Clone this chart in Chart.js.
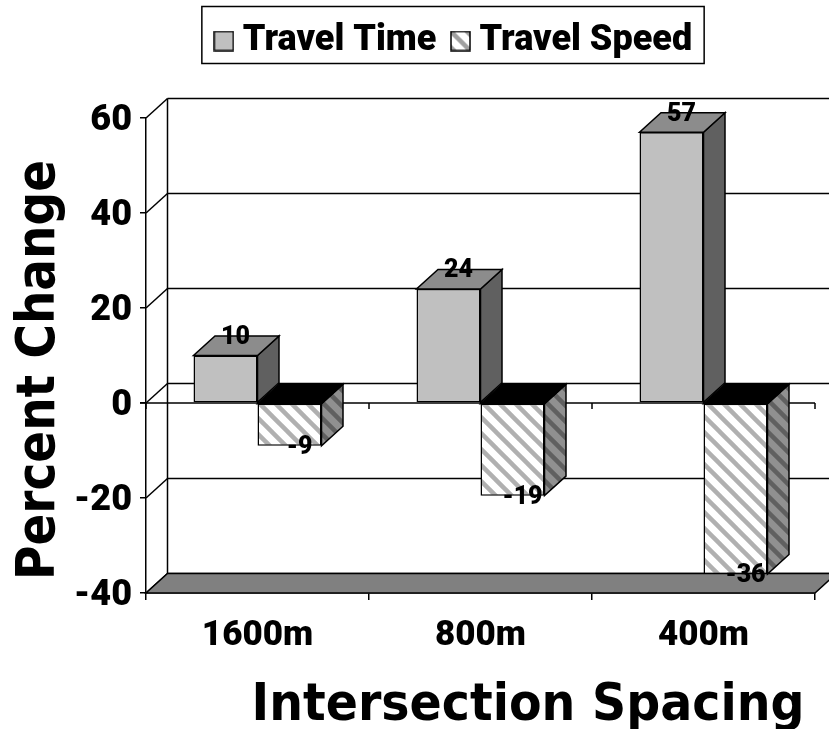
<!DOCTYPE html>
<html>
<head>
<meta charset="utf-8">
<style>
  html, body { margin: 0; padding: 0; background: #fff; }
  canvas { display: block; }
</style>
<script src="https://cdn.jsdelivr.net/npm/chart.js@4"></script>
</head>
<body>
<canvas id="chart" width="829" height="729"></canvas>
<script>
const categories = ['1600m', '800m', '400m'];
const travelTime = [10, 24, 57];
const travelSpeed = [-9, -19.5, -36];
const valueLabels = [['10', '24', '57'], ['-9', '-19', '-36']];

const yTicks = { min: -40, max: 60, step: 20 };
const depthX = 21.5;
const depthY = 19.5;
const smallFont = 'Roboto, "DejaVu Sans Condensed", sans-serif';
const bigFont = '"DejaVu Sans", sans-serif';

function makeTile(back, stripe, size, width) {
    const tile = document.createElement('canvas');
    tile.width = size;
    tile.height = size;
    const c = tile.getContext('2d');
    c.fillStyle = back;
    c.fillRect(0, 0, size, size);
    c.strokeStyle = stripe;
    c.lineWidth = width;
    for (let i = -size; i <= size; i += size) {
        c.beginPath();
        c.moveTo(i - 2, -2);
        c.lineTo(i + size + 2, size + 2);
        c.stroke();
    }
    return tile;
}

// tile with diagonal stripes for the hatched bars
function makeHatch(back, stripe) {
    return document.getElementById('chart').getContext('2d').createPattern(makeTile(back, stripe, 16, 4.5), 'repeat');
}

const hatchFront = makeHatch('#ffffff', '#b0b0b0');
const hatchSide = makeHatch('#909090', '#606060');

// legend swatches, drawn as point styles so they sit close to the text
function makeSwatch(fill) {
    const s = document.createElement('canvas');
    s.width = 21;
    s.height = 21;
    const c = s.getContext('2d');
    c.fillStyle = fill;
    c.fillRect(1, 1, 19, 19);
    c.strokeStyle = '#000';
    c.lineWidth = 1.5;
    c.strokeRect(1, 1, 19, 19);
    return s;
}

const swatches = [
    makeSwatch('#c0c0c0'),
    makeSwatch(document.createElement('canvas').getContext('2d').createPattern(makeTile('#ffffff', '#a0a0a0', 16, 4.5), 'repeat'))
];

function face(ctx, pts, fill) {
    ctx.beginPath();
    ctx.moveTo(pts[0][0], pts[0][1]);
    for (let i = 1; i < pts.length; i++) ctx.lineTo(pts[i][0], pts[i][1]);
    ctx.closePath();
    ctx.fillStyle = fill;
    ctx.fill();
    ctx.lineWidth = 1.5;
    ctx.strokeStyle = '#000';
    ctx.stroke();
}

function line(ctx, x1, y1, x2, y2, w) {
    ctx.beginPath();
    ctx.moveTo(x1, y1);
    ctx.lineTo(x2, y2);
    ctx.lineWidth = w;
    ctx.strokeStyle = '#000';
    ctx.stroke();
}

const box3d = {
    id: 'box3d',
    beforeLayout(chart) {
        // room between legend and plot, v4 legend has no afterFit so wrap fit
        const legend = chart.legend;
        if (legend && !legend.wrapped) {
            const fit = legend.fit;
            legend.fit = function () {
                fit.call(this);
                this.height = 118;
            };
            legend.wrapped = true;
        }
    },
    afterLayout(chart) {
        // legend is not centred on the canvas in the original
        chart.legend.left = 100;
        chart.legend.adjustHitBoxes();
    },
    beforeDatasetsDraw(chart) {
        const ctx = chart.ctx;
        const x = chart.scales.x;
        const y = chart.scales.y;
        const zero = y.getPixelForValue(0);
        const backLeft = x.left + depthX;
        const backRight = x.right + depthX;
        ctx.save();
        // back wall and left wall
        y.ticks.forEach(t => {
            const py = y.getPixelForValue(t.value);
            line(ctx, backLeft, py - depthY, backRight, py - depthY, 1.5);
            line(ctx, x.left, py, backLeft, py - depthY, 1.5);
        });
        line(ctx, backLeft, y.top - depthY, backLeft, y.bottom - depthY, 1.5);
        // floor
        face(ctx, [[x.left, y.bottom], [x.right, y.bottom], [backRight, y.bottom - depthY], [backLeft, y.bottom - depthY]], '#808080');
        // zero line with its tick marks
        line(ctx, x.left - 6, zero, x.right, zero, 1.5);
        for (let i = 0; i <= categories.length; i++) {
            const px = x.left + i * (x.right - x.left) / categories.length;
            line(ctx, px, zero, px, zero + 6, 1.5);
        }
        ctx.restore();
    },
    afterDatasetsDraw(chart) {
        const ctx = chart.ctx;
        ctx.save();
        chart.data.datasets.forEach((ds, d) => {
            chart.getDatasetMeta(d).data.forEach(bar => {
                const l = bar.x - bar.width / 2;
                const r = bar.x + bar.width / 2;
                const top = Math.min(bar.y, bar.base);
                const bottom = Math.max(bar.y, bar.base);
                const topFill = d === 0 ? '#8c8c8c' : '#000';
                const sideFill = d === 0 ? '#606060' : hatchSide;
                face(ctx, [[r, top], [r + depthX, top - depthY], [r + depthX, bottom - depthY], [r, bottom]], sideFill);
                face(ctx, [[l, top], [r, top], [r + depthX, top - depthY], [l + depthX, top - depthY]], topFill);
            });
        });
        ctx.restore();
    },
    afterDraw(chart) {
        const ctx = chart.ctx;
        ctx.save();
        // value labels
        ctx.fillStyle = '#000';
        ctx.textAlign = 'center';
        ctx.textBaseline = 'middle';
        ctx.font = '900 25px ' + smallFont;
        chart.data.datasets.forEach((ds, d) => {
            chart.getDatasetMeta(d).data.forEach((bar, i) => {
                const up = ds.data[i] >= 0;
                const py = up ? bar.y - 18 : bar.y + 2;
                ctx.fillText(valueLabels[d][i], bar.x + 10, py);
            });
        });
        // frame round the legend
        const boxes = chart.legend.legendHitBoxes;
        const first = boxes[0];
        const last = boxes[boxes.length - 1];
        const frameLeft = first.left - 21;
        const frameRight = last.left + last.width + 12;
        ctx.lineWidth = 1.5;
        ctx.strokeStyle = '#000';
        ctx.strokeRect(frameLeft, 6.5, frameRight - frameLeft, 57);
        // axis titles, squeezed to the width they have in the original
        ctx.font = 'bold 52px ' + bigFont;
        ctx.textBaseline = 'alphabetic';
        ctx.fillText('Intersection Spacing', 528, 720, 553);
        ctx.translate(54, 370);
        ctx.rotate(-Math.PI / 2);
        ctx.font = 'bold 54px ' + bigFont;
        ctx.fillText('Percent Change', 0, 0, 420);
        ctx.restore();
    }
};

new Chart(document.getElementById('chart'), {
    type: 'bar',
    data: {
        labels: categories,
        datasets: [
            { label: 'Travel Time', data: travelTime, backgroundColor: '#c0c0c0', borderColor: '#000', borderWidth: 1.5, borderSkipped: false },
            { label: 'Travel Speed', data: travelSpeed, backgroundColor: hatchFront, borderColor: '#000', borderWidth: 1.5, borderSkipped: false }
        ]
    },
    options: {
        responsive: false,
        animation: false,
        layout: { padding: { left: 0, right: 14, top: 0, bottom: 0 } },
        datasets: { bar: { categoryPercentage: 0.574, barPercentage: 1 } },
        plugins: {
            tooltip: { enabled: false },
            legend: {
                position: 'top',
                labels: {
                    usePointStyle: true,
                    pointStyleWidth: 2,
                    padding: 23,
                    color: '#000',
                    font: { family: smallFont, size: 36, weight: 900 },
                    generateLabels(chart) {
                        const items = Chart.defaults.plugins.legend.labels.generateLabels(chart);
                        items.forEach((item, i) => { item.pointStyle = swatches[i]; });
                        return items;
                    }
                }
            }
        },
        scales: {
            x: {
                afterFit(scale) { scale.height = 136; },
                grid: { offset: true, drawOnChartArea: false, color: '#000', lineWidth: 1.5, tickLength: 7 },
                border: { color: '#000', width: 1.5 },
                ticks: { color: '#000', padding: 15, maxRotation: 0, font: { family: smallFont, size: 35, weight: 900 } }
            },
            y: {
                min: yTicks.min,
                max: yTicks.max,
                afterFit(scale) { scale.width = 146; },
                grid: { drawOnChartArea: false, color: '#000', lineWidth: 1.5, tickLength: 6 },
                border: { color: '#000', width: 1.5 },
                ticks: { stepSize: yTicks.step, color: '#000', padding: 8, labelOffset: 3, font: { family: smallFont, size: 36, weight: 900 } }
            }
        }
    },
    plugins: [box3d]
});
</script>
</body>
</html>
